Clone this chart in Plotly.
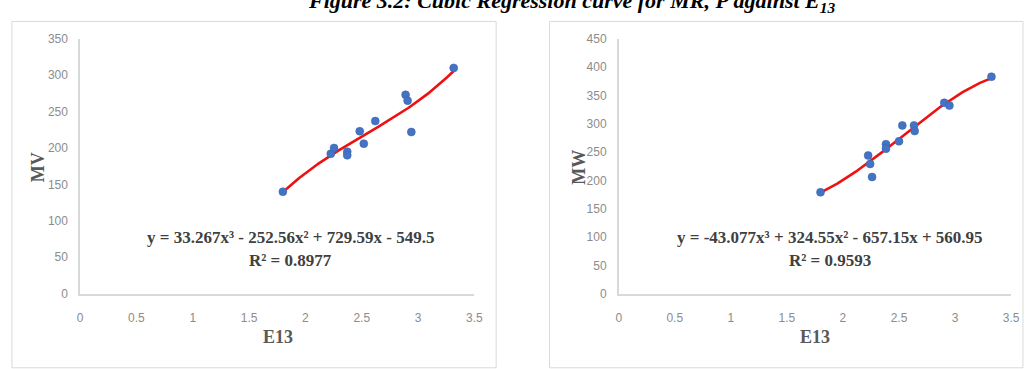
import numpy as np
import plotly.graph_objects as go

W, H = 1027, 369

# Observed values: E13 against MV and MW
e13_mv = [1.80, 2.225, 2.254, 2.371, 2.371, 2.482, 2.518, 2.62, 2.889, 2.907, 2.94, 3.316]
mv = [140, 192, 200, 195, 190, 223, 206, 237, 273, 265, 222, 310]

e13_mw = [1.80, 2.225, 2.243, 2.26, 2.384, 2.384, 2.50, 2.53, 2.634, 2.64, 2.904, 2.95, 3.325]
mw = [179, 244, 229, 206, 264, 256, 269, 297, 297, 287, 337, 332, 383]

# Cubic trend-line coefficients (x^3, x^2, x, const) and R^2
coef_mv = [33.267, -252.56, 729.59, -549.5]
r2_mv = 0.8977
coef_mw = [-43.077, 324.55, -657.15, 560.95]
r2_mw = 0.9593

x_ticks = [0, 0.5, 1, 1.5, 2, 2.5, 3, 3.5]
x_tick_text = ["0", "0.5", "1", "1.5", "2", "2.5", "3", "3.5"]


def px_x(p):
    return p / W


def px_y(p):
    return 1 - p / H


def eq_text(c):
    def term(v, first=False):
        s = f"{abs(v):g}"
        if first:
            return ("-" if v < 0 else "") + s
        return (" - " if v < 0 else " + ") + s
    return (f"y = {term(c[0], True)}x³{term(c[1])}x²{term(c[2])}x{term(c[3])}")


fig = go.Figure()

blue = "#4472C4"
red = "#EE1111"
axis_gray = "#D9D9D9"
tick_gray = "#8C8C8C"
text_dark = "#404040"
serif = "Liberation Serif"

panels = [
    dict(x=e13_mv, y=mv, coef=coef_mv, r2=r2_mv, xa="x", ya="y", yname="MV",
         xdom=(78, 477), ymax=350, ydtick=50, eq_x=291, yt_x=35, xt_x=278),
    dict(x=e13_mw, y=mw, coef=coef_mw, r2=r2_mw, xa="x2", ya="y2", yname="MW",
         xdom=(623, 1020), ymax=450, ydtick=50, eq_x=837, yt_x=582, xt_x=822),
]


def label(text, x, y, size, color, angle=0, yanchor="middle"):
    return dict(text=text, x=px_x(x), y=px_y(y), xref="paper", yref="paper",
                xanchor="center", yanchor=yanchor, showarrow=False, textangle=angle,
                font=dict(family=serif, size=size, color=color))


annotations = []
for i, p in enumerate(panels):
    xs = np.linspace(min(p["x"]), max(p["x"]), 200)
    ys = np.polyval(p["coef"], xs)
    fig.add_trace(go.Scatter(x=xs, y=ys, mode="lines", line=dict(color=red, width=2.6),
                             xaxis=p["xa"], yaxis=p["ya"], showlegend=False, hoverinfo="skip"))
    fig.add_trace(go.Scatter(x=p["x"], y=p["y"], mode="markers",
                             marker=dict(color=blue, size=8, line=dict(color="#3A62A8", width=0.5)),
                             xaxis=p["xa"], yaxis=p["ya"], showlegend=False))
    sfx = "" if i == 0 else str(i + 1)
    fig.layout["xaxis" + sfx] = dict(
        domain=[px_x(p["xdom"][0]), px_x(p["xdom"][1])], range=[0, 3.5],
        anchor="y" + sfx, tickvals=x_ticks, ticktext=x_tick_text,
        showline=True, linecolor=axis_gray, linewidth=1.5, showgrid=False, zeroline=False,
        ticks="outside", ticklen=12, tickcolor="rgba(0,0,0,0)",
        tickfont=dict(family="Liberation Sans", size=12, color=tick_gray),
    )
    fig.layout["yaxis" + sfx] = dict(
        domain=[px_y(298), px_y(33)], range=[0, p["ymax"]], dtick=p["ydtick"],
        anchor="x" + sfx,
        showline=True, linecolor=axis_gray, linewidth=1.5, showgrid=False, zeroline=False,
        ticks="outside", ticklen=8, tickcolor="rgba(0,0,0,0)",
        tickfont=dict(family="Liberation Sans", size=12, color=tick_gray),
    )
    # axis titles
    annotations.append(label("<b>E13</b>", p["xt_x"], 343, 18, "#595959"))
    annotations.append(label(f"<b>{p['yname']}</b>", p["yt_x"], 167, 18, "#595959", angle=-90))
    # trend-line equation and R^2
    annotations.append(label(f"<b>{eq_text(p['coef'])}</b>", p["eq_x"], 240, 17, text_dark))
    annotations.append(label(f"<b>R² = {p['r2']:.4f}</b>", p["eq_x"], 263, 17, text_dark))

annotations.append(label("<b><i>Figure 3.2: Cubic Regression curve for MR, P against E<sub>13</sub></i></b>",
                         575, 11, 22, "#000000", yanchor="bottom"))

shapes = [
    dict(type="rect", xref="paper", yref="paper", x0=px_x(9), x1=px_x(499), y0=px_y(375), y1=px_y(15),
         line=dict(color="#D9D9D9", width=1)),
    dict(type="rect", xref="paper", yref="paper", x0=px_x(553), x1=px_x(1032), y0=px_y(375), y1=px_y(15),
         line=dict(color="#D9D9D9", width=1)),
]

fig.update_layout(
    width=W, height=H, margin=dict(l=0, r=0, t=0, b=0),
    paper_bgcolor="white", plot_bgcolor="white",
    annotations=annotations, shapes=shapes,
)

fig.write_html("out.html")
